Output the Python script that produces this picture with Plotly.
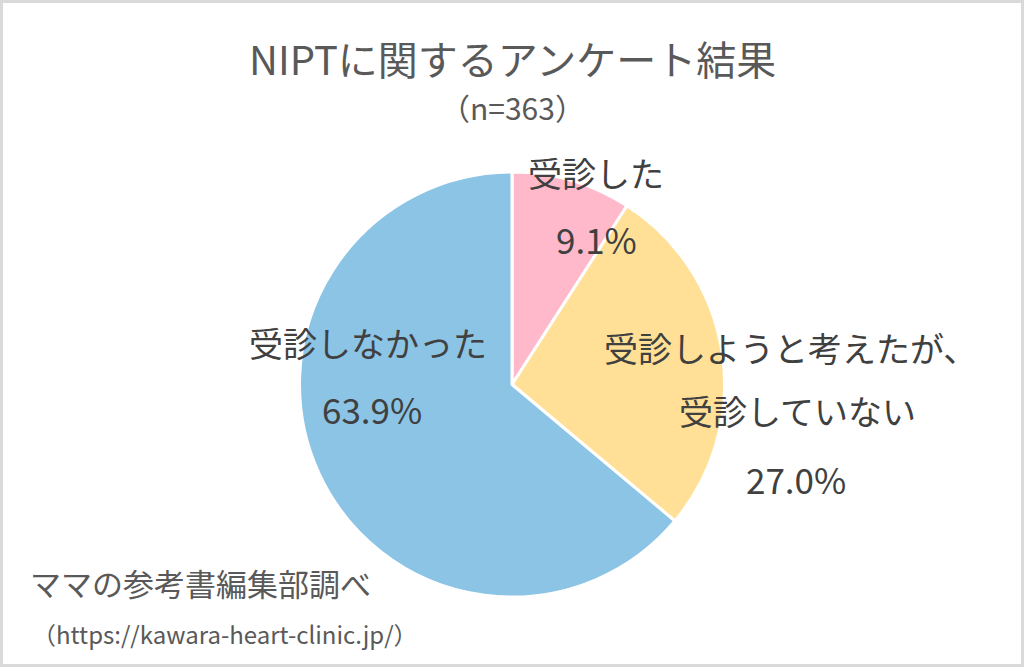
import plotly.graph_objects as go

# Data
labels = ["受診した", "受診しようと考えたが、<br>受診していない", "受診しなかった"]
values = [9.1, 27.0, 63.9]
colors = ["#FFB9CB", "#FFE096", "#8CC4E6"]

title_text = "NIPTに関するアンケート結果"
subtitle_text = "（n=363）"
source_text = "ママの参考書編集部調べ"
url_text = "（https://kawara-heart-clinic.jp/）"

W, H = 1024, 667
FONT = "Noto Sans CJK JP"
TXT = "#404040"

def px(x, y):
    return x / W, 1 - y / H

fig = go.Figure(go.Pie(
    labels=labels,
    values=values,
    sort=False,
    direction="clockwise",
    rotation=0,
    marker=dict(colors=colors, line=dict(color="white", width=3)),
    textinfo="none",
    hoverinfo="label+percent",
    domain=dict(x=[299 / W, 725 / W], y=[1 - 597 / H, 1 - 172 / H]),
    showlegend=False,
))

# label positions (pixel centres): one per name line, then percentage
name_pos = [[(596, 172)], [(790, 347), (797, 411)], [(368, 343)]]
pct_pos = [(596, 238), (796, 478), (372, 408)]

ann = []
for lab, val, npos, (qx, qy) in zip(labels, values, name_pos, pct_pos):
    for line, (nx, ny) in zip(lab.split("<br>"), npos):
        x, y = px(nx, ny)
        ann.append(dict(x=x, y=y, xref="paper", yref="paper", text=line, showarrow=False,
                        xanchor="center", yanchor="middle",
                        font=dict(family=FONT, size=34, color=TXT)))
    x, y = px(qx, qy)
    ann.append(dict(x=x, y=y, xref="paper", yref="paper", text=f"{val:.1f}%", showarrow=False,
                    xanchor="center", yanchor="middle",
                    font=dict(family=FONT, size=35, color=TXT)))

x, y = px(512, 58)
ann.append(dict(x=x, y=y, xref="paper", yref="paper", text=title_text, showarrow=False,
                xanchor="center", yanchor="middle", font=dict(family=FONT, size=40, color="#595959")))
x, y = px(512, 107)
ann.append(dict(x=x, y=y, xref="paper", yref="paper", text=subtitle_text, showarrow=False,
                xanchor="center", yanchor="middle", font=dict(family=FONT, size=30, color="#595959")))
x, y = px(28, 582)
ann.append(dict(x=x, y=y, xref="paper", yref="paper", text=source_text, showarrow=False,
                xanchor="left", yanchor="middle", font=dict(family=FONT, size=31, color="#595959")))
x, y = px(30, 633)
ann.append(dict(x=x, y=y, xref="paper", yref="paper", text=url_text, showarrow=False,
                xanchor="left", yanchor="middle", font=dict(family=FONT, size=24, color="#595959")))

fig.update_layout(
    width=W, height=H,
    margin=dict(l=0, r=0, t=0, b=0),
    paper_bgcolor="white",
    plot_bgcolor="white",
    annotations=ann,
    shapes=[dict(type="rect", xref="paper", yref="paper",
                 x0=1.5 / W, x1=1 - 1.5 / W, y0=1.5 / H, y1=1 - 1.5 / H,
                 line=dict(color="#D9D9D9", width=3))],
)

fig.write_html(
    "out.html",
    config={"displayModeBar": False},
    post_script="document.body.style.margin='0';document.body.style.overflow='hidden';",
)
